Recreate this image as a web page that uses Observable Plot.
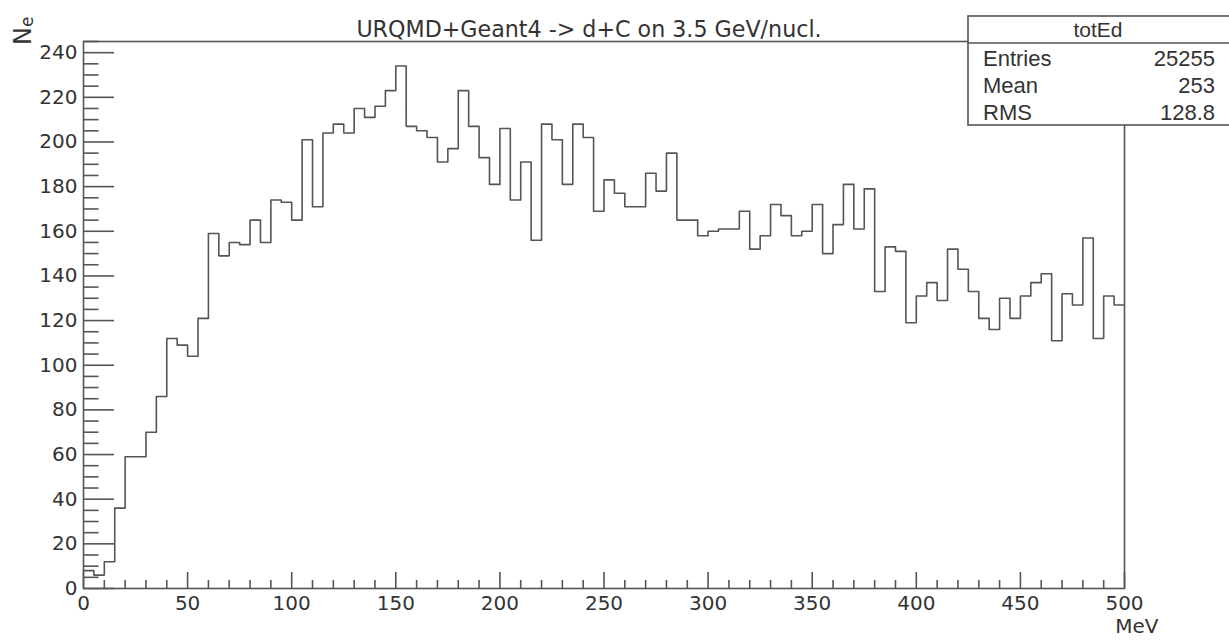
<!DOCTYPE html>
<html>
<head>
<meta charset="utf-8">
<script src="https://cdn.jsdelivr.net/npm/d3@7"></script>
<script src="https://cdn.jsdelivr.net/npm/@observablehq/plot@0.6"></script>
<style>
  html, body { margin: 0; padding: 0; background: #fff; overflow: hidden; }
  #chart { width: 1229px; height: 641px; }
</style>
</head>
<body>
<div id="chart"></div>
<script>
// ---- data ----
const binStart = 0;
const binWidth = 5; // MeV
const counts = [
  8, 6, 12, 36, 59, 59, 70, 86, 112, 109,
  104, 121, 159, 149, 155, 154, 165, 155, 174, 173,
  165, 201, 171, 204, 208, 204, 215, 211, 216, 223,
  234, 207, 205, 202, 191, 197, 223, 207, 193, 181,
  206, 174, 191, 156, 208, 201, 181, 208, 202, 169,
  183, 177, 171, 171, 186, 178, 195, 165, 165, 158,
  160, 161, 161, 169, 152, 158, 172, 167, 158, 160,
  172, 150, 163, 181, 161, 179, 133, 153, 151, 119,
  131, 137, 129, 152, 143, 133, 121, 116, 130, 121,
  131, 137, 141, 111, 132, 127, 157, 112, 131, 127
];
const xTickLabels = [0, 50, 100, 150, 200, 250, 300, 350, 400, 450, 500];
const yTickLabels = [0, 20, 40, 60, 80, 100, 120, 140, 160, 180, 200, 220, 240];
const titleText = "URQMD+Geant4 -> d+C on 3.5 GeV/nucl.";
const xLabel = "MeV";
const yLabelMain = "N";
const yLabelSub = "e";
const statsTitle = "totEd";
const statNames = ["Entries", "Mean", "RMS"];
const statValues = ["25255", "253", "128.8"];

// ---- derived tables ----
const steps = counts.map((c, i) => ({x: binStart + i * binWidth, y: c}));
steps.push({x: binStart + counts.length * binWidth, y: counts[counts.length - 1]});
const xMinor = d3.range(0, 501, 10).filter(v => v % 50 !== 0);
const yMinor = d3.range(0, 246, 5).filter(v => v % 20 !== 0);

const lineColor = "#555";
const textColor = "#333";
const sans = "'Liberation Sans', Arial, sans-serif";
const deja = "'DejaVu Sans', sans-serif";

const plot = Plot.plot({
  width: 1229,
  height: 641,
  marginLeft: 83,
  marginRight: 105,
  marginTop: 41,
  marginBottom: 53,
  style: {fontFamily: deja, fontSize: "20px", color: textColor, background: "#fff", overflow: "visible"},
  x: {domain: [0, 500], label: null},
  y: {domain: [0, 245], label: null},
  marks: [
    Plot.line(steps, {x: "x", y: "y", curve: "step-after", stroke: lineColor, strokeWidth: 1.6}),
    Plot.frame({stroke: lineColor, strokeWidth: 1.6}),
    // inner ticks
    Plot.axisY(yTickLabels, {tickSize: -31, tickFormat: () => "", stroke: lineColor, strokeWidth: 1.6, label: null}),
    Plot.axisY(yMinor, {tickSize: -15.5, tickFormat: () => "", stroke: lineColor, strokeWidth: 1.6, label: null}),
    Plot.axisX(xTickLabels, {tickSize: -16, tickFormat: () => "", stroke: lineColor, strokeWidth: 1.6, label: null}),
    Plot.axisX(xMinor, {tickSize: -8, tickFormat: () => "", stroke: lineColor, strokeWidth: 1.6, label: null}),
    // tick labels
    Plot.axisY(yTickLabels, {tickSize: 0, tickPadding: 6, label: null, fill: textColor}),
    Plot.axisX(xTickLabels, {tickSize: 0, tickPadding: 7, label: null, fill: textColor}),
    // title and x axis name
    Plot.text([titleText], {frameAnchor: "top", dx: -15, dy: -20, fontFamily: deja, fontSize: 22.2, fill: textColor}),
    Plot.text([xLabel], {frameAnchor: "bottom-right", textAnchor: "end", dx: 34, dy: 44, fontFamily: deja, fontSize: 20, fill: textColor})
  ]
});
document.getElementById("chart").appendChild(plot);

const svg = d3.select(plot);

// ---- y axis name: N with subscript e, rotated ----
const yl = svg.append("text")
  .attr("transform", "translate(31,45) rotate(-90)")
  .attr("text-anchor", "start")
  .attr("font-family", deja)
  .attr("fill", textColor);
yl.append("tspan").attr("font-size", 24).text(yLabelMain);
yl.append("tspan").attr("font-size", 17).attr("dy", 2).text(yLabelSub);

// ---- statistics box (ROOT style) ----
const box = svg.append("g").attr("font-family", sans).attr("fill", textColor);
const bx = 968, by = 16, bw = 270, bh = 109, hdr = 27;
box.append("rect").attr("x", bx).attr("y", by).attr("width", bw).attr("height", bh)
  .attr("fill", "#fff").attr("stroke", lineColor).attr("stroke-width", 1.6);
box.append("line").attr("x1", bx).attr("x2", bx + bw).attr("y1", by + hdr).attr("y2", by + hdr)
  .attr("stroke", lineColor).attr("stroke-width", 1.6);
box.append("text").attr("x", 1098).attr("y", 37).attr("text-anchor", "middle")
  .attr("font-size", 21).text(statsTitle);
statNames.forEach((name, i) => {
  const y = 66 + i * 26.8;
  box.append("text").attr("x", 983).attr("y", y).attr("font-size", 22).attr("text-anchor", "start").text(name);
  box.append("text").attr("x", 1215).attr("y", y).attr("font-size", 22).attr("text-anchor", "end").text(statValues[i]);
});
</script>
</body>
</html>
